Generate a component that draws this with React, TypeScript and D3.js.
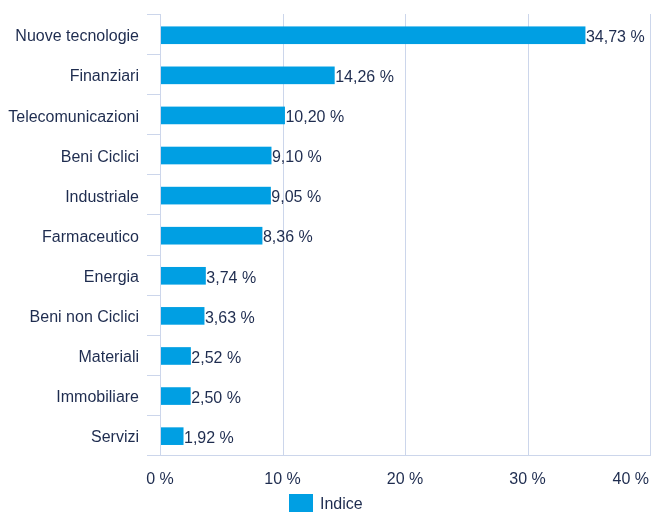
import React, { useEffect, useRef } from 'react';
import * as d3 from 'd3';

const categories = [
  'Nuove tecnologie', 'Finanziari', 'Telecomunicazioni', 'Beni Ciclici', 'Industriale',
  'Farmaceutico', 'Energia', 'Beni non Ciclici', 'Materiali', 'Immobiliare', 'Servizi',
];
const values = [34.73, 14.26, 10.2, 9.1, 9.05, 8.36, 3.74, 3.63, 2.52, 2.5, 1.92];
const xTicks = [0, 10, 20, 30, 40];
const seriesName = 'Indice';

const Chart: React.FC = () => {
  const ref = useRef<SVGSVGElement | null>(null);

  useEffect(() => {
    const width = 653;
    const height = 512;
    const left = 160;
    const right = 650;
    const top = 14;
    const bottom = 455;
    const textColor = '#1e2c4f';
    const gridColor = '#ccd6eb';
    const barColor = '#009fe3';
    const font = '"Liberation Sans", Arial, sans-serif';
    const fmt = (v: number) => v.toFixed(2).replace('.', ',') + ' %';

    const svg = d3.select(ref.current)
      .attr('width', width)
      .attr('height', height)
      .style('display', 'block')
      .style('font-family', font);
    svg.selectAll('*').remove();

    const x = d3.scaleLinear().domain([0, 40]).range([left, right]);
    // bars sit about 1px below the slot centre in the original
    const y = d3.scaleBand<string>().domain(categories).range([top + 1.2, bottom + 1.2]).paddingInner(0.56).paddingOuter(0.28);

    // grid
    svg.append('g').selectAll('line')
      .data(xTicks.slice(1))
      .join('line')
        .attr('x1', d => Math.round(x(d)) + 0.5).attr('x2', d => Math.round(x(d)) + 0.5)
        .attr('y1', top).attr('y2', bottom)
        .attr('stroke', gridColor).attr('stroke-width', 1);

    // category axis
    const step = (bottom - top) / categories.length;
    svg.append('line')
      .attr('x1', left + 0.5).attr('x2', left + 0.5)
      .attr('y1', top).attr('y2', bottom)
      .attr('stroke', gridColor);
    svg.append('g').selectAll('line')
      .data(d3.range(categories.length + 1))
      .join('line')
        .attr('x1', left - 13).attr('x2', left)
        .attr('y1', i => Math.round(top + i * step) + 0.5).attr('y2', i => Math.round(top + i * step) + 0.5)
        .attr('stroke', gridColor);
    svg.append('line')
      .attr('x1', left - 13).attr('x2', right + 1)
      .attr('y1', bottom + 0.5).attr('y2', bottom + 0.5)
      .attr('stroke', gridColor);

    svg.append('g').selectAll('text')
      .data(categories)
      .join('text')
        .attr('x', 139)
        .attr('y', d => y(d)! + y.bandwidth() / 2)
        .attr('dy', '0.38em')
        .attr('text-anchor', 'end')
        .attr('fill', textColor)
        .style('font-size', '16px')
        .text(d => d);

    // bars
    svg.append('g').selectAll('rect')
      .data(values)
      .join('rect')
        .attr('x', left + 1)
        .attr('y', (_, i) => y(categories[i])!)
        .attr('width', d => x(d) - left - 1)
        .attr('height', y.bandwidth())
        .attr('fill', barColor);

    svg.append('g').selectAll('text')
      .data(values)
      .join('text')
        .attr('x', d => x(d) + 0.5)
        .attr('y', (_, i) => y(categories[i])! + y.bandwidth() / 2)
        .attr('dy', '0.42em')
        .attr('fill', textColor)
        .style('font-size', '16px')
        .text(d => fmt(d));

    // x tick labels
    svg.append('g').selectAll('text')
      .data(xTicks)
      .join('text')
        .attr('x', d => d === 40 ? 649 : x(d))
        .attr('y', 484)
        .attr('text-anchor', d => d === 40 ? 'end' : 'middle')
        .attr('fill', textColor)
        .style('font-size', '16px')
        .text(d => `${d} %`);

    // legend
    svg.append('rect')
      .attr('x', 289).attr('y', 494).attr('width', 24).attr('height', 18)
      .attr('fill', barColor);
    svg.append('text')
      .attr('x', 320).attr('y', 509)
      .attr('fill', textColor)
      .style('font-size', '16px')
      .text(seriesName);
  }, []);

  return <svg ref={ref}></svg>;
};

export default function App() {
  return (
    <div style={{ position: 'fixed', left: 0, top: 0, width: 653, height: 512, overflow: 'hidden' }}>
      <Chart />
    </div>
  );
}
